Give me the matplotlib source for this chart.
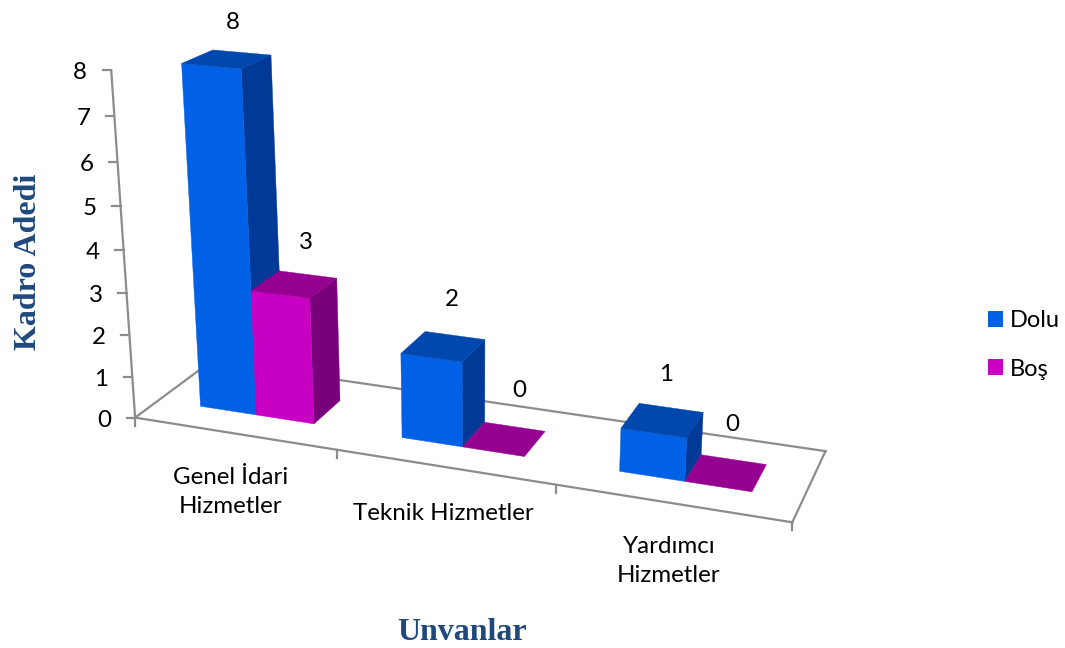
import numpy as np
import matplotlib
matplotlib.use("Agg")
import matplotlib.pyplot as plt
from matplotlib.patches import Polygon, Patch

# ---- data ----
categories = ["Genel İdari\nHizmetler", "Teknik Hizmetler", "Yardımcı\nHizmetler"]
dolu = [8, 2, 1]
bos = [3, 0, 0]
series_names = ["Dolu", "Boş"]
y_ticks = [0, 1, 2, 3, 4, 5, 6, 7, 8]
x_title = "Unvanlar"
y_title = "Kadro Adedi"

# ---- style / layout ----
BLUE = ("#0060E6", "#0047AE", "#003A96")      # front, top, side
MAG = ("#C800C4", "#960090", "#78007A")
GREY = "#8C8C8C"
TITLE = "#1F497D"
SANS = "Lato"
SERIF = "Liberation Serif"
FS = 17.4
CAMERA = np.array([[189.5277462, 92.1220265, -3.9073934, 135.1111995],
                   [15.424573, -28.9603803, -44.009871, 417.6133349],
                   [-0.037287, 0.075902, -0.0082735, 1.0]])
U0, UM, U1 = 0.215, 0.5, 0.787
V0, V1 = 0.30, 0.69
VALUE_OFFSETS = {("d", 0): (6, -37), ("b", 0): (12, -42), ("d", 1): (9, -47),
                 ("b", 1): (15, -49), ("d", 2): (4, -46), ("b", 2): (6, -48)}
CAT_LABEL_POS = [(231, 492), (443, 514), (669, 561)]


def proj(u, v, z):
    p = CAMERA @ np.array([u, v, z, 1.0])
    return p[0] / p[2], p[1] / p[2]


fig = plt.figure(figsize=(10.65, 6.48), dpi=100)
ax = fig.add_axes([0, 0, 1, 1])
ax.set_xlim(0, 1065)
ax.set_ylim(648, 0)
ax.axis("off")


def line(a, b, **kw):
    ax.plot([a[0], b[0]], [a[1], b[1]], color=GREY, lw=1.6, solid_capstyle="projecting", zorder=1, **kw)


ncat = len(categories)
zmax = max(y_ticks)
# floor frame
corners = [proj(0, 0, 0), proj(ncat, 0, 0), proj(ncat, 1, 0), proj(0, 1, 0)]
for i in range(4):
    line(corners[i], corners[(i + 1) % 4])
# value axis and ticks
line(proj(0, 0, 0), proj(0, 0, zmax))
for t in y_ticks:
    x, y = proj(0, 0, t)
    line((x - 8.5, y), (x, y))
    ax.text(x - 31, y + 2.5, str(t), fontsize=FS, family=SANS, ha="center", va="center", color="black")
# category ticks
for i in range(ncat + 1):
    x, y = proj(i, 0, 0)
    line((x, y), (x, y + 8))
for lab, (x, y) in zip(categories, CAT_LABEL_POS):
    ax.text(x, y, lab, fontsize=FS, family=SANS, ha="center", va="center", linespacing=1.45,
            multialignment="center", color="black")


def box(u0, u1, h, cols, z):
    fr = [proj(u0, V0, 0), proj(u1, V0, 0), proj(u1, V0, h), proj(u0, V0, h)]
    top = [proj(u0, V0, h), proj(u1, V0, h), proj(u1, V1, h), proj(u0, V1, h)]
    side = [proj(u1, V0, 0), proj(u1, V1, 0), proj(u1, V1, h), proj(u1, V0, h)]
    if h > 0:
        ax.add_patch(Polygon(side, closed=True, fc=cols[2], ec=cols[2], lw=0.3, zorder=z))
        ax.add_patch(Polygon(fr, closed=True, fc=cols[0], ec=cols[0], lw=0.3, zorder=z + 0.1))
    ax.add_patch(Polygon(top, closed=True, fc=cols[1], ec=cols[1], lw=0.3, zorder=z + 0.2))


for i in range(ncat):
    box(i + U0, i + UM, dolu[i], BLUE, 2 + i)
    box(i + UM, i + U1, bos[i], MAG, 2.5 + i)
    for key, val, a, b in (("d", dolu[i], i + U0, i + UM), ("b", bos[i], i + UM, i + U1)):
        cx, cy = proj((a + b) / 2, (V0 + V1) / 2, val)
        dx, dy = VALUE_OFFSETS[(key, i)]
        ax.text(cx + dx, cy + dy, str(val), fontsize=FS, family=SANS, ha="center", va="center",
                color="black", zorder=10)

ax.text(462.5, 632, x_title, fontsize=23, family=SERIF, weight="bold", color=TITLE, ha="center", va="center")
ax.text(29, 262, y_title, fontsize=23, family=SERIF, weight="bold", color=TITLE, ha="center", va="center",
        rotation=90)

handles = [Patch(fc=BLUE[0], ec="none", label=series_names[0]), Patch(fc=MAG[0], ec="none", label=series_names[1])]
ax.legend(handles=handles, loc="center left", bbox_to_anchor=(983.5, 345), bbox_transform=ax.transData,
          frameon=False, prop={"family": SANS, "size": 17}, handlelength=0.635, handleheight=0.635,
          handletextpad=0.3, labelspacing=1.145, borderpad=0, borderaxespad=0.2)

fig.savefig("out.png", dpi=100)
